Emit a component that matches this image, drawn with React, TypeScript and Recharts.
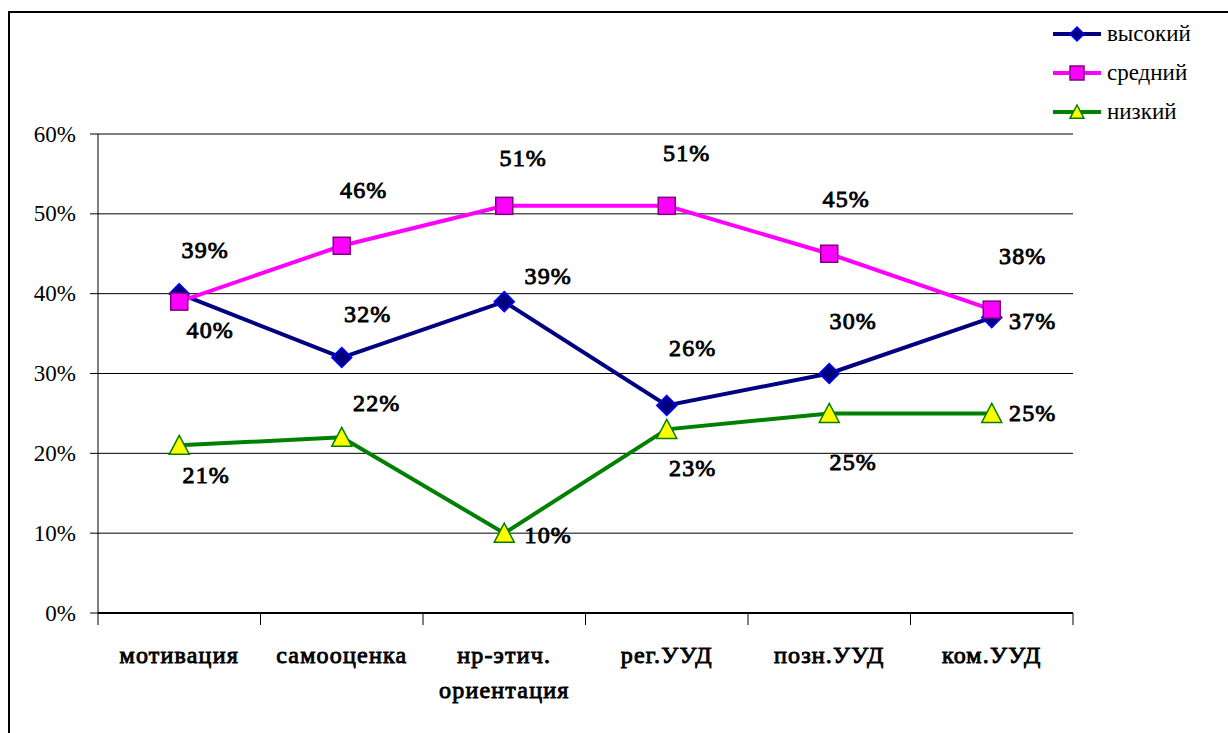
import React from 'react';
import { LineChart, Line, XAxis, YAxis, CartesianGrid, Legend } from 'recharts';

// categories and values (in %)
const categories = ['мотивация', 'самооценка', 'нр-этич. ориентация', 'рег.УУД', 'позн.УУД', 'ком.УУД'];
const highValues = [40, 32, 39, 26, 30, 37];
const midValues = [39, 46, 51, 51, 45, 38];
const lowValues = [21, 22, 10, 23, 25, 25];
const yTicks = [0, 10, 20, 30, 40, 50, 60];
const boundaryTicks = [0, 1, 2, 3, 4, 5, 6];

// label placement relative to each point, [dx, dy]
const highLabelShift = [[31, 36], [26, -44], [44, -26], [26, -57], [24, -53], [41, 3]];
const midLabelShift = [[26, -52], [22, -56], [19, -48], [20, -53], [17, -55], [31, -54]];
const lowLabelShift = [[27, 30], [35, -34], [44, 2], [26, 39], [24, 49], [41, 0]];

// the serif bold face is not installed, so bold is faked with a thin stroke
const FONT = 'Liberation Serif';

const rows = categories.map((name, i) => ({
  pos: i + 0.5,
  name,
  high: highValues[i],
  mid: midValues[i],
  low: lowValues[i],
}));

const Diamond = ({ cx, cy, r = 10 }: any) => (
  <polygon
    points={`${cx},${cy - r} ${cx + r},${cy} ${cx},${cy + r} ${cx - r},${cy}`}
    fill="#000080"
    stroke="#0000FF"
    strokeWidth={1.5}
  />
);

const Square = ({ cx, cy, r = 8.5 }: any) => (
  <rect x={cx - r} y={cy - r} width={r * 2} height={r * 2} fill="#FF00FF" stroke="#800080" strokeWidth={1.5} />
);

const Triangle = ({ cx, cy, r = 10 }: any) => (
  <polygon
    points={`${cx},${cy - r} ${cx + r},${cy + r * 0.9} ${cx - r},${cy + r * 0.9}`}
    fill="#FFFF00"
    stroke="#008000"
    strokeWidth={1.5}
  />
);

const series = [
  { key: 'high', name: 'высокий', color: '#000080', Marker: Diamond, shift: highLabelShift },
  { key: 'mid', name: 'средний', color: '#FF00FF', Marker: Square, shift: midLabelShift },
  { key: 'low', name: 'низкий', color: '#008000', Marker: Triangle, shift: lowLabelShift },
];

const boldText = {
  fontFamily: FONT,
  fontSize: 24,
  letterSpacing: 1.2,
  fill: '#000',
  stroke: '#000',
  strokeWidth: 0.9,
};

const makeLabel = (shift: number[][]) => (props: any) => {
  const { x, y, value, index } = props;
  const [dx, dy] = shift[index] || [0, -30];
  return (
    <text key={`lbl-${index}`} x={x + dx} y={y + dy} textAnchor="middle" dominantBaseline="central" {...boldText}>
      {`${value}%`}
    </text>
  );
};

const CategoryTick = ({ x, y, payload }: any) => {
  const name = categories[Math.floor(payload.value)] || '';
  const parts = name.split(' ');
  return (
    <g>
      {parts.map((p, i) => (
        <text key={i} x={x} y={y + 38 + i * 35} textAnchor="middle" {...boldText}>
          {p}
        </text>
      ))}
    </g>
  );
};

const PercentTick = ({ x, y, payload }: any) => (
  <text x={x} y={y} textAnchor="end" dominantBaseline="central" fontFamily={FONT} fontSize={23} fill="#000">
    {`${payload.value}%`}
  </text>
);

const LegendBox = () => (
  <div style={{ fontFamily: FONT, fontSize: 23, color: '#000', lineHeight: 1 }}>
    {series.map((s) => (
      <div key={s.key} style={{ display: 'flex', alignItems: 'center', height: 39 }}>
        <svg width={50} height={24} style={{ marginRight: 5 }}>
          <line x1={1} y1={12} x2={49} y2={12} stroke={s.color} strokeWidth={4} />
          <s.Marker cx={25} cy={12} r={7} />
        </svg>
        <span>{s.name}</span>
      </div>
    ))}
  </div>
);

export default function App() {
  return (
    <div style={{ position: 'absolute', left: 0, top: 0, width: 1228, height: 733, background: '#fff', overflow: 'hidden', fontFamily: FONT }}>
      <div
        style={{
          position: 'absolute',
          left: 8,
          top: 11,
          width: 1300,
          height: 800,
          border: '2px solid #000',
        }}
      />
      <LineChart width={1228} height={733} data={rows} margin={{ top: 134, right: 155, bottom: 0, left: 8 }}>
        <CartesianGrid vertical={false} stroke="#000" strokeWidth={1} />
        <YAxis
          domain={[0, 60]}
          ticks={yTicks}
          width={90}
          tickSize={8}
          tickMargin={14}
          axisLine={{ stroke: '#000', strokeWidth: 1 }}
          tickLine={{ stroke: '#000' }}
          tick={<PercentTick />}
        />
        <XAxis
          xAxisId="b_labels"
          dataKey="pos"
          type="number"
          domain={[0, 6]}
          ticks={rows.map((r) => r.pos)}
          height={108}
          tickSize={0}
          tickMargin={0}
          axisLine={false}
          tickLine={false}
          tick={<CategoryTick />}
        />
        <XAxis
          xAxisId="a_main"
          dataKey="pos"
          type="number"
          domain={[0, 6]}
          ticks={boundaryTicks}
          height={12}
          tickSize={12}
          tickFormatter={() => ''}
          axisLine={{ stroke: '#000', strokeWidth: 2 }}
          tickLine={{ stroke: '#000' }}
        />
        <Legend
          layout="vertical"
          align="center"
          verticalAlign="middle"
          content={() => <LegendBox />}
          wrapperStyle={{ position: 'absolute', left: 1052, top: 14, width: 'auto', height: 'auto' }}
        />
        {series.map((s) => (
          <Line
            key={s.key}
            xAxisId="a_main"
            type="linear"
            dataKey={s.key}
            name={s.name}
            stroke={s.color}
            strokeWidth={4}
            dot={(p: any) => <s.Marker key={`dot-${s.key}-${p.index}`} cx={p.cx} cy={p.cy} />}
            activeDot={false}
            label={makeLabel(s.shift)}
            isAnimationActive={false}
          />
        ))}
      </LineChart>
    </div>
  );
}
